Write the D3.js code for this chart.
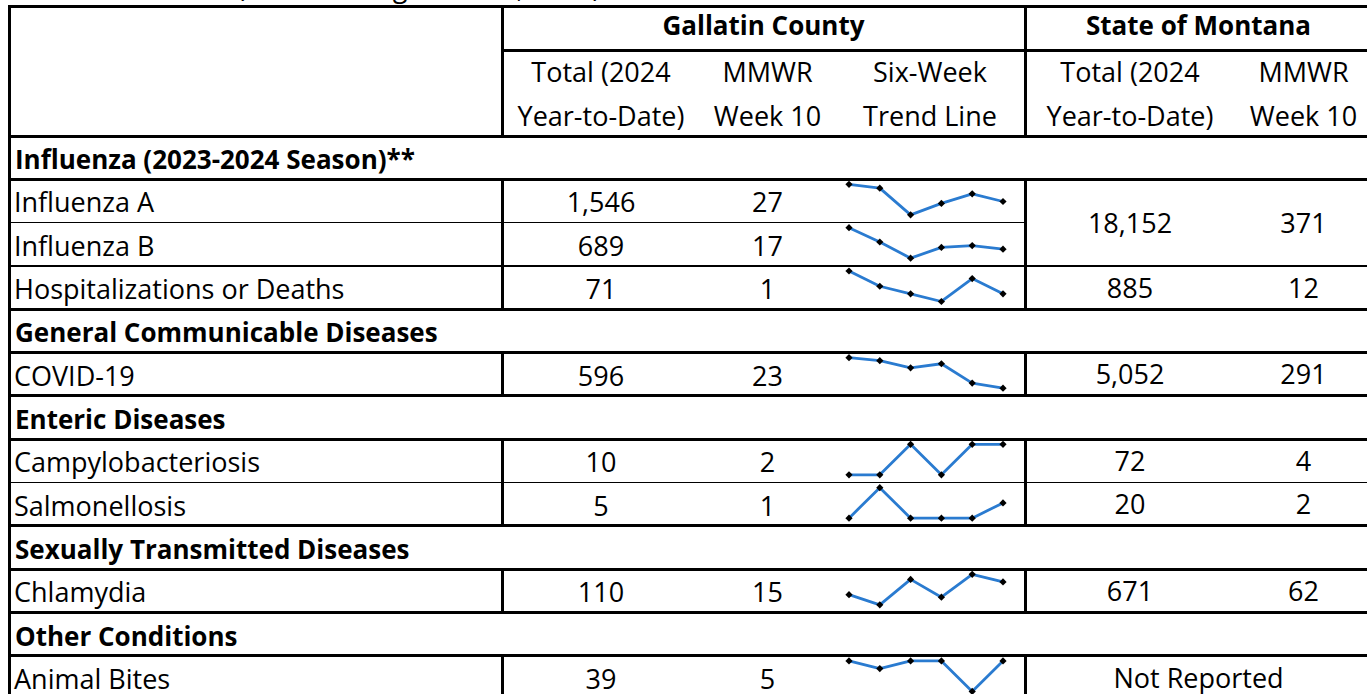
<!DOCTYPE html>
<html>
<head>
<meta charset="utf-8">
<script src="https://cdn.jsdelivr.net/npm/d3@7"></script>
<style>
  body { margin: 0; background: #fff; }
  svg text { font-family: "Open Sans", Carlito, Calibri, sans-serif; fill: #000; font-size: 27px; }
  svg text.bold { font-weight: bold; font-size: 26px; }
</style>
</head>
<body>
<div id="table"></div>
<script>
var sections = ["Influenza (2023-2024 Season)**", "General Communicable Diseases", "Enteric Diseases",
    "Sexually Transmitted Diseases", "Other Conditions"];
var conditions = ["Influenza A", "Influenza B", "Hospitalizations or Deaths", "COVID-19",
    "Campylobacteriosis", "Salmonellosis", "Chlamydia", "Animal Bites"];
var conditionSection = [0, 0, 0, 1, 2, 2, 3, 4];
var gallatinTotal = [1546, 689, 71, 596, 10, 5, 110, 39];
var gallatinWeek10 = [27, 17, 1, 23, 2, 1, 15, 5];
// six-week counts, weeks 5..10 (estimated from the sparklines)
var sixWeekTrend = [
    [36, 34, 20, 26, 31, 27],
    [29, 21, 12, 18, 19, 17],
    [4, 2, 1, 0, 3, 1],
    [53, 50, 43, 47, 28, 23],
    [0, 0, 2, 0, 2, 2],
    [0, 2, 0, 0, 0, 1],
    [10, 6, 16, 9, 18, 15],
    [5, 4, 5, 5, 1, 5]
];
// Montana: flu A and B share one cell (span 2), animal bites not reported
var montanaSpan = [2, 0, 1, 1, 1, 1, 1, 1];
var montanaTotal = [18152, null, 885, 5052, 72, 20, 671, null];
var montanaWeek10 = [371, null, 12, 291, 4, 2, 62, null];
var notReported = "Not Reported";
var topHeaders = ["Gallatin County", "State of Montana"];
var subHeaders = [["Total (2024", "Year-to-Date)"], ["MMWR", "Week 10"], ["Six-Week", "Trend Line"],
    ["Total (2024", "Year-to-Date)"], ["MMWR", "Week 10"]];
var title = "(Week Ending March 9, 2024)";

var svgWidth = 1367;
var svgHeight = 694;

var svg = d3.select("#table")
    .append("svg")
    .attr("width", svgWidth)
    .attr("height", svgHeight);

var fmt = d3.format(",");
var thick = 3, thin = 1.2;

// columns
var cols = ["label", "gTotal", "gWeek", "gTrend", "mTotal", "mWeek"];
var colX = d3.scaleOrdinal().domain(cols).range([9, 502, 700, 835, 1025, 1235]);
var colW = d3.scaleOrdinal().domain(cols).range([493, 198, 135, 190, 210, 137]);
var rightEdge = 1372;
var colMid = c => colX(c) + colW(c) / 2;

// body rows: section header followed by its conditions
var bodyRows = [];
sections.forEach(function (s, si) {
    bodyRows.push({ type: "section", text: s, section: si });
    conditions.forEach(function (c, ci) {
        if (conditionSection[ci] === si) bodyRows.push({ type: "data", idx: ci, section: si });
    });
});

var yRow = d3.scaleBand()
    .domain(d3.range(bodyRows.length))
    .range([136, 136 + bodyRows.length * 43.33]);
var rh = yRow.bandwidth();

// cut-off title above the table
svg.append("text")
    .attr("x", 237).attr("y", -3)
    .text(title);

// header text
var head = svg.append("g");
topHeaders.forEach(function (t, i) {
    var x0 = i === 0 ? colX("gTotal") : colX("mTotal");
    var x1 = i === 0 ? colX("mTotal") : rightEdge;
    head.append("text")
        .attr("class", "bold")
        .attr("x", (x0 + x1) / 2).attr("y", 35)
        .attr("text-anchor", "middle")
        .text(t);
});
subHeaders.forEach(function (lines, i) {
    lines.forEach(function (l, j) {
        head.append("text")
            .attr("x", colMid(cols[i + 1])).attr("y", 82 + j * 44)
            .attr("text-anchor", "middle")
            .text(l);
    });
});

// body text
var body = svg.append("g");
bodyRows.forEach(function (r, i) {
    var y = yRow(i) + 33;
    if (r.type === "section") {
        body.append("text").attr("class", "bold").attr("x", 15).attr("y", y)
            .text(r.text);
        return;
    }
    var k = r.idx;
    body.append("text").attr("x", 14).attr("y", y).text(conditions[k]);
    body.append("text").attr("x", colMid("gTotal")).attr("y", y).attr("text-anchor", "middle")
        .text(fmt(gallatinTotal[k]));
    body.append("text").attr("x", colMid("gWeek")).attr("y", y).attr("text-anchor", "middle")
        .text(fmt(gallatinWeek10[k]));

    if (montanaSpan[k] > 0) {
        var my = yRow(i) + (montanaSpan[k] * rh) / 2 + 10;
        if (montanaTotal[k] == null) {
            body.append("text").attr("x", (colX("mTotal") + rightEdge) / 2).attr("y", my)
                .attr("text-anchor", "middle").text(notReported);
        } else {
            body.append("text").attr("x", colMid("mTotal")).attr("y", my).attr("text-anchor", "middle")
                .text(fmt(montanaTotal[k]));
            body.append("text").attr("x", colMid("mWeek")).attr("y", my).attr("text-anchor", "middle")
                .text(fmt(montanaWeek10[k]));
        }
    }

    // sparkline
    var vals = sixWeekTrend[k];
    var xs = d3.scaleLinear().domain([0, vals.length - 1])
        .range([colX("gTrend") + 14, colX("gTrend") + colW("gTrend") - 22]);
    var ys = d3.scaleLinear().domain(d3.extent(vals))
        .range([yRow(i) + 35.5, yRow(i) + 5]);
    var line = d3.line().x((d, j) => xs(j)).y(d => ys(d));
    body.append("path")
        .attr("d", line(vals))
        .attr("fill", "none")
        .attr("stroke", "#2A7BD0")
        .attr("stroke-width", 2.8)
        .attr("stroke-linejoin", "round");
    body.selectAll(null)
        .data(vals)
        .enter()
        .append("path")
        .attr("d", d3.symbol(d3.symbolSquare, 26))
        .attr("transform", (d, j) => `translate(${xs(j)},${ys(d)}) rotate(45)`)
        .attr("fill", "#000");
});

// grid lines
var grid = svg.append("g").attr("stroke", "#000").attr("shape-rendering", "crispEdges");
function hline(y, x0, x1, w) {
    grid.append("line").attr("x1", x0).attr("x2", x1).attr("y1", y).attr("y2", y).attr("stroke-width", w);
}
function vline(x, y0, y1, w) {
    grid.append("line").attr("x1", x).attr("x2", x).attr("y1", y0).attr("y2", y1).attr("stroke-width", w);
}

hline(6, 8, rightEdge, thick);
hline(50, colX("gTotal"), rightEdge, thick);
hline(yRow(0), 8, rightEdge, thick);
vline(9, 5, svgHeight, thick);
vline(colX("gTotal"), 5, yRow(0), thick);
vline(colX("mTotal"), 5, yRow(0), thick);

bodyRows.forEach(function (r, i) {
    var yb = yRow(i) + rh;
    var next = bodyRows[i + 1];
    var sameBlock = next && r.type === "data" && next.type === "data" && next.section === r.section;
    var xEnd = (sameBlock && montanaSpan[next.idx] === 0) ? colX("mTotal") : rightEdge;
    if (yb < svgHeight) hline(yb, 8, xEnd, sameBlock ? thin : thick);
    if (r.type === "data") {
        vline(colX("gTotal"), yRow(i), yb, thick);
        vline(colX("mTotal"), yRow(i), yb, thick);
    }
});
</script>
</body>
</html>
